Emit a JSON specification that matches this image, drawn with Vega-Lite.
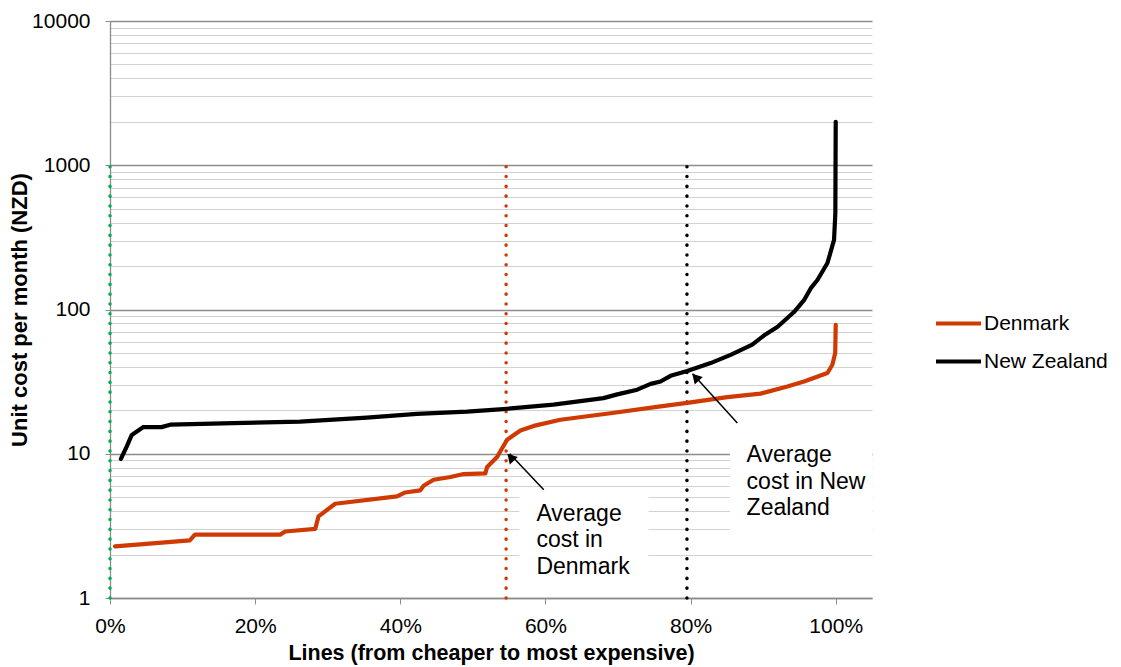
{
  "$schema": "https://vega.github.io/schema/vega-lite/v6.json",
  "width": 762,
  "height": 577,
  "autosize": "none",
  "padding": {"left": 110, "top": 21, "right": 249, "bottom": 69},
  "background": "white",
  "config": {
    "view": {"stroke": null},
    "font": "Liberation Sans",
    "axis": {"labelFont": "Liberation Sans", "titleFont": "Liberation Sans", "labelColor": "#000000", "titleColor": "#000000"},
    "legend": {"labelFont": "Liberation Sans"}
  },
  "datasets": {
    "curves": [
      {"share": 0.007, "cost": 2.28, "country": "Denmark"},
      {"share": 0.110, "cost": 2.51, "country": "Denmark"},
      {"share": 0.117, "cost": 2.75, "country": "Denmark"},
      {"share": 0.2345, "cost": 2.75, "country": "Denmark"},
      {"share": 0.2414, "cost": 2.89, "country": "Denmark"},
      {"share": 0.2828, "cost": 3.01, "country": "Denmark"},
      {"share": 0.2873, "cost": 3.68, "country": "Denmark"},
      {"share": 0.3103, "cost": 4.5, "country": "Denmark"},
      {"share": 0.3954, "cost": 5.06, "country": "Denmark"},
      {"share": 0.4069, "cost": 5.39, "country": "Denmark"},
      {"share": 0.4276, "cost": 5.57, "country": "Denmark"},
      {"share": 0.4321, "cost": 6.0, "country": "Denmark"},
      {"share": 0.4459, "cost": 6.6, "country": "Denmark"},
      {"share": 0.469, "cost": 6.9, "country": "Denmark"},
      {"share": 0.4873, "cost": 7.23, "country": "Denmark"},
      {"share": 0.5172, "cost": 7.3, "country": "Denmark"},
      {"share": 0.5196, "cost": 8.1, "country": "Denmark"},
      {"share": 0.5334, "cost": 9.5, "country": "Denmark"},
      {"share": 0.5379, "cost": 10.4, "country": "Denmark"},
      {"share": 0.5472, "cost": 12.5, "country": "Denmark"},
      {"share": 0.5655, "cost": 14.5, "country": "Denmark"},
      {"share": 0.5839, "cost": 15.6, "country": "Denmark"},
      {"share": 0.6207, "cost": 17.2, "country": "Denmark"},
      {"share": 0.6897, "cost": 19.1, "country": "Denmark"},
      {"share": 0.7586, "cost": 21.3, "country": "Denmark"},
      {"share": 0.7954, "cost": 22.5, "country": "Denmark"},
      {"share": 0.8506, "cost": 24.7, "country": "Denmark"},
      {"share": 0.8966, "cost": 26.1, "country": "Denmark"},
      {"share": 0.9334, "cost": 29.3, "country": "Denmark"},
      {"share": 0.9563, "cost": 31.7, "country": "Denmark"},
      {"share": 0.9886, "cost": 36.3, "country": "Denmark"},
      {"share": 0.9954, "cost": 41.4, "country": "Denmark"},
      {"share": 0.9993, "cost": 49.9, "country": "Denmark"},
      {"share": 1.0, "cost": 78.3, "country": "Denmark"},
      {"share": 0.015, "cost": 9.2, "country": "New Zealand"},
      {"share": 0.023, "cost": 11.2, "country": "New Zealand"},
      {"share": 0.030, "cost": 13.5, "country": "New Zealand"},
      {"share": 0.046, "cost": 15.3, "country": "New Zealand"},
      {"share": 0.071, "cost": 15.3, "country": "New Zealand"},
      {"share": 0.083, "cost": 15.9, "country": "New Zealand"},
      {"share": 0.17, "cost": 16.3, "country": "New Zealand"},
      {"share": 0.262, "cost": 16.7, "country": "New Zealand"},
      {"share": 0.354, "cost": 17.8, "country": "New Zealand"},
      {"share": 0.423, "cost": 18.9, "country": "New Zealand"},
      {"share": 0.492, "cost": 19.6, "country": "New Zealand"},
      {"share": 0.542, "cost": 20.4, "country": "New Zealand"},
      {"share": 0.611, "cost": 21.9, "country": "New Zealand"},
      {"share": 0.68, "cost": 24.3, "country": "New Zealand"},
      {"share": 0.699, "cost": 25.8, "country": "New Zealand"},
      {"share": 0.7265, "cost": 27.8, "country": "New Zealand"},
      {"share": 0.745, "cost": 30.5, "country": "New Zealand"},
      {"share": 0.7586, "cost": 31.7, "country": "New Zealand"},
      {"share": 0.7724, "cost": 34.7, "country": "New Zealand"},
      {"share": 0.7954, "cost": 37.5, "country": "New Zealand"},
      {"share": 0.8276, "cost": 42.5, "country": "New Zealand"},
      {"share": 0.8552, "cost": 48.5, "country": "New Zealand"},
      {"share": 0.885, "cost": 57, "country": "New Zealand"},
      {"share": 0.901, "cost": 66, "country": "New Zealand"},
      {"share": 0.92, "cost": 76, "country": "New Zealand"},
      {"share": 0.9425, "cost": 96, "country": "New Zealand"},
      {"share": 0.9563, "cost": 116, "country": "New Zealand"},
      {"share": 0.9655, "cost": 140, "country": "New Zealand"},
      {"share": 0.9748, "cost": 160, "country": "New Zealand"},
      {"share": 0.9886, "cost": 210, "country": "New Zealand"},
      {"share": 0.9977, "cost": 304, "country": "New Zealand"},
      {"share": 0.9995, "cost": 466, "country": "New Zealand"},
      {"share": 1.0, "cost": 2000, "country": "New Zealand"}
    ],
    "averages": [
      {"share": 0.0, "low": 1, "high": 1000, "line": "Start"},
      {"share": 0.5458, "low": 1, "high": 1000, "line": "Denmark"},
      {"share": 0.795, "low": 1, "high": 1000, "line": "New Zealand"}
    ],
    "boxes": [
      {"left": 0.5641, "right": 0.7421, "top": 5.63, "bottom": 1.24},
      {"left": 0.8542, "right": 1.05, "top": 13.5, "bottom": 2.34}
    ],
    "notes": [
      {"share": 0.5876, "cost": 3.434, "label": "Average\ncost in\nDenmark"},
      {"share": 0.8772, "cost": 8.71, "label": "Average\ncost in New\nZealand"}
    ],
    "arrows": [
      {"fromShare": 0.5977, "fromCost": 5.63, "toShare": 0.5508, "toCost": 10.0, "headShare": 0.5520, "headCost": 9.45},
      {"fromShare": 0.8644, "fromCost": 16.32, "toShare": 0.8028, "toCost": 35.8, "headShare": 0.8068, "headCost": 33.9}
    ]
  },
  "layer": [
    {
      "data": {"name": "boxes"},
      "mark": {"type": "rect", "fill": "white", "stroke": null},
      "encoding": {
        "x": {"field": "left", "type": "quantitative", "scale": {"domain": [0, 1.05], "nice": false, "zero": false},
          "axis": {
            "title": "Lines (from cheaper to most expensive)",
            "values": [0, 0.2, 0.4, 0.6, 0.8, 1.0],
            "format": ".0%",
            "grid": false,
            "domainColor": "#8c8c8c",
            "domainWidth": 1.3,
            "tickColor": "#8c8c8c",
            "tickSize": 6,
            "tickWidth": 1,
            "labelFontSize": 21,
            "labelPadding": 11,
            "labelFlush": false,
            "labelOverlap": false,
            "titleFontSize": 21.5,
            "titleFontWeight": "bold",
            "titlePadding": 6
          }},
        "x2": {"field": "right"},
        "y": {"field": "top", "type": "quantitative", "scale": {"type": "log", "domain": [1, 10000], "nice": false},
          "axis": {
            "title": "Unit cost per month (NZD)",
            "values": [1,2,3,4,5,6,7,8,9,10,20,30,40,50,60,70,80,90,100,200,300,400,500,600,700,800,900,1000,2000,3000,4000,5000,6000,7000,8000,9000,10000],
            "labelExpr": "indexof([1,10,100,1000,10000], datum.value) >= 0 ? '' + datum.value : ''",
            "labelOverlap": false,
            "labelFlush": false,
            "grid": true,
            "gridColor": {"condition": {"test": "indexof([1,10,100,1000,10000], datum.value) >= 0", "value": "#8c8c8c"}, "value": "#d2d2d2"},
            "gridWidth": {"condition": {"test": "indexof([1,10,100,1000,10000], datum.value) >= 0", "value": 1.3}, "value": 1.1},
            "tickOpacity": {"condition": {"test": "indexof([1,10,100,1000,10000], datum.value) >= 0", "value": 1}, "value": 0},
            "domainColor": "#8c8c8c",
            "domainWidth": 1.3,
            "tickColor": "#8c8c8c",
            "tickSize": 5,
            "labelFontSize": 21,
            "labelPadding": 15,
            "titleFontSize": 22,
            "titleFontWeight": "bold",
            "titlePadding": 0
          }},
        "y2": {"field": "bottom"}
      }
    },
    {
      "data": {"name": "averages"},
      "mark": {"type": "rule", "strokeWidth": 3.5, "strokeDash": [0.1, 9.7], "strokeCap": "round"},
      "encoding": {
        "x": {"field": "share", "type": "quantitative"},
        "y": {"field": "low", "type": "quantitative", "scale": {"type": "log"}},
        "y2": {"field": "high"},
        "stroke": {"field": "line", "type": "nominal", "scale": {"domain": ["Start", "Denmark", "New Zealand"], "range": ["#00b050", "#cf3a02", "#000000"]}, "legend": null}
      }
    },
    {
      "data": {"name": "curves"},
      "mark": {"type": "line", "strokeWidth": 4.2, "strokeCap": "round", "strokeJoin": "round"},
      "encoding": {
        "x": {"field": "share", "type": "quantitative"},
        "y": {"field": "cost", "type": "quantitative", "scale": {"type": "log"}},
        "color": {"field": "country", "type": "nominal",
          "scale": {"domain": ["Denmark", "New Zealand"], "range": ["#cf3a02", "#000000"]},
          "legend": {
            "title": null,
            "orient": "none",
            "legendX": 824,
            "legendY": 278,
            "padding": 0,
            "symbolType": "stroke",
            "symbolSize": 2025,
            "symbolStrokeWidth": 4,
            "labelFontSize": 21,
            "labelColor": "#000000",
            "labelOffset": 1,
            "rowPadding": 3
          }}
      }
    },
    {
      "data": {"name": "arrows"},
      "mark": {"type": "rule", "color": "#000000", "strokeWidth": 1.5},
      "encoding": {
        "x": {"field": "fromShare", "type": "quantitative"},
        "y": {"field": "fromCost", "type": "quantitative", "scale": {"type": "log"}},
        "x2": {"field": "toShare"},
        "y2": {"field": "toCost"}
      }
    },
    {
      "data": {"name": "arrows"},
      "mark": {"type": "point", "shape": "triangle-up", "filled": true, "color": "#000000", "size": 120, "angle": 317, "opacity": 1},
      "encoding": {
        "x": {"field": "headShare", "type": "quantitative"},
        "y": {"field": "headCost", "type": "quantitative", "scale": {"type": "log"}}
      }
    },
    {
      "data": {"name": "notes"},
      "mark": {"type": "text", "align": "left", "baseline": "alphabetic", "lineBreak": "\n", "fontSize": 23, "lineHeight": 26.5, "color": "#000000", "font": "Liberation Sans"},
      "encoding": {
        "x": {"field": "share", "type": "quantitative"},
        "y": {"field": "cost", "type": "quantitative", "scale": {"type": "log"}},
        "text": {"field": "label"}
      }
    }
  ]
}
